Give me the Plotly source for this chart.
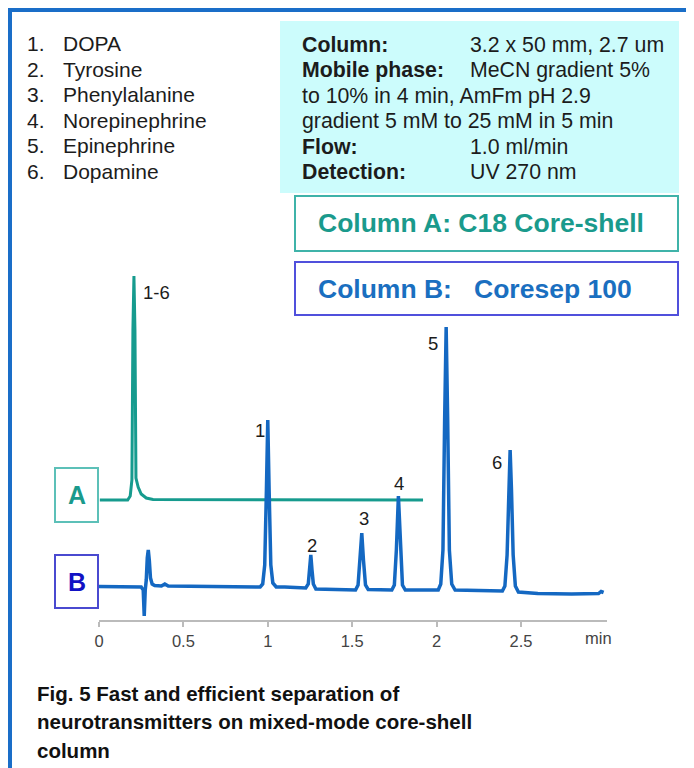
import plotly.graph_objects as go

# ---------------- data ----------------
# Column A chromatogram (time in min, detector signal in arbitrary units)
time_a = [0.005, 0.170, 0.185, 0.195, 0.201, 0.207, 0.213, 0.219, 0.232, 0.250, 0.280, 0.320, 1.920]
signal_a = [120, 120, 124, 140, 290, 344, 290, 142, 133, 126, 122, 120.5, 120]

# Column B chromatogram
time_b = [0.000, 0.150, 0.250, 0.262, 0.268, 0.274, 0.280, 0.286, 0.292, 0.298, 0.305, 0.315, 0.330,
          0.370, 0.390, 0.410, 0.600, 0.900, 0.955, 0.970, 0.982, 0.992, 1.000, 1.008, 1.018, 1.030,
          1.050, 1.100, 1.225, 1.240, 1.248, 1.255, 1.262, 1.270, 1.285, 1.400, 1.520, 1.535, 1.547,
          1.557, 1.567, 1.579, 1.595, 1.735, 1.750, 1.762, 1.774, 1.786, 1.798, 1.815, 2.010, 2.025,
          2.038, 2.048, 2.057, 2.066, 2.076, 2.090, 2.110, 2.390, 2.405, 2.418, 2.428, 2.436, 2.444,
          2.454, 2.467, 2.485, 2.600, 2.800, 2.960, 2.975, 2.990]
signal_b = [33.5, 33.5, 33, 30, 4, 30, 40, 62, 70, 60, 42, 36, 34.5,
            34, 36, 34, 33.5, 32.5, 33, 36, 55, 130, 200, 130, 55, 37,
            33, 33, 32, 36, 50, 65, 50, 36, 31, 30.5, 30, 35, 60,
            87, 60, 35, 30.5, 30, 35, 70, 124, 70, 35, 30, 30, 36,
            70, 200, 293, 200, 70, 36, 30, 29, 34, 65, 130, 170, 130,
            65, 34, 28, 26.5, 26, 26.5, 28.5, 27.5]

peak_labels_b = ["1", "2", "3", "4", "5", "6"]
peak_time_b = [1.000, 1.255, 1.557, 1.774, 2.057, 2.436]
peak_height_b = [200, 65, 87, 124, 293, 170]
peak_label_a = "1-6"
peak_time_a = 0.207
peak_height_a = 344

compounds = ["DOPA", "Tyrosine", "Phenylalanine", "Norepinephrine", "Epinephrine", "Dopamine"]
condition_keys = ["Column:", "Mobile phase:", "", "", "Flow:", "Detection:"]
condition_vals = ["3.2 x 50 mm, 2.7 um", "MeCN gradient 5%", "to 10% in 4 min, AmFm pH 2.9",
                  "gradient 5 mM to 25 mM in 5 min", "1.0 ml/min", "UV 270 nm"]
tick_vals = [0, 0.5, 1, 1.5, 2, 2.5]
tick_text = ["0", "0.5", "1", "1.5", "2", "2.5"]
caption_lines = ["Fig. 5 Fast and efficient separation of",
                 "neurotransmitters on mixed-mode core-shell",
                 "column"]

# ---------------- layout helpers ----------------
# the page body has an 8px margin, so the figure is drawn 8px in from the corner
OFF = 8
W, H = 694 - OFF, 768 - OFF
L, R, T, B = 99 - OFF, 87, 260 - OFF, 148
PW, PH = W - L - R, H - T - B


def px(x):
    return (x - OFF - L) / PW


def py(y):
    return (H - B - (y - OFF)) / PH


TEAL = "#169b8e"
BLUE = "#1468c2"
FONT = "Liberation Sans, Arial, sans-serif"
TXT = "#1c1c1c"

fig = go.Figure()
fig.add_trace(go.Scatter(x=time_a, y=signal_a, mode="lines",
                         line=dict(color=TEAL, width=3), hoverinfo="skip"))
fig.add_trace(go.Scatter(x=time_b, y=signal_b, mode="lines",
                         line=dict(color=BLUE, width=3.5), hoverinfo="skip"))

shapes = []
# outer frame (top and left)
shapes.append(dict(type="rect", xref="paper", yref="paper", x0=px(8), x1=px(700), y0=py(12), y1=py(8),
                   fillcolor="#1a6ec8", line=dict(width=0)))
shapes.append(dict(type="rect", xref="paper", yref="paper", x0=px(8), x1=px(12), y0=py(775), y1=py(8),
                   fillcolor="#1a6ec8", line=dict(width=0)))
# conditions box
shapes.append(dict(type="rect", xref="paper", yref="paper", x0=px(280), x1=px(679), y0=py(193), y1=py(21),
                   fillcolor="#ccfcfc", line=dict(width=0), layer="below"))
# column boxes
shapes.append(dict(type="rect", xref="paper", yref="paper", x0=px(295), x1=px(678), y0=py(251), y1=py(196),
                   fillcolor="white", line=dict(color="#3fb3a9", width=2)))
shapes.append(dict(type="rect", xref="paper", yref="paper", x0=px(295), x1=px(678), y0=py(315), y1=py(262),
                   fillcolor="white", line=dict(color="#5050dc", width=2)))
# A / B boxes
shapes.append(dict(type="rect", xref="paper", yref="paper", x0=px(55), x1=px(98), y0=py(522), y1=py(468),
                   fillcolor="white", line=dict(color="#5cc0b8", width=2)))
shapes.append(dict(type="rect", xref="paper", yref="paper", x0=px(55), x1=px(98), y0=py(608), y1=py(555),
                   fillcolor="white", line=dict(color="#4a4ad0", width=2)))

ann = []


def text(x, y, s, size, color=TXT, bold=False, xanchor="left", family=FONT):
    ann.append(dict(xref="paper", yref="paper", x=px(x), y=py(y), text=("<b>%s</b>" % s) if bold else s,
                    showarrow=False, xanchor=xanchor, yanchor="middle",
                    font=dict(family=family, size=size, color=color)))


# compound list
for i, name in enumerate(compounds):
    yy = 43.5 + i * 25.6
    text(25, yy, "%d." % (i + 1), 21)
    text(61, yy, name, 21)

# conditions
for i, (k, v) in enumerate(zip(condition_keys, condition_vals)):
    yy = 45 + i * 25.4
    if k:
        text(300, yy, k, 21.3, bold=True)
        text(468, yy, v, 21.3)
    else:
        text(300, yy, v, 21.3)

# column titles
text(316, 223, "Column A: C18 Core-shell", 26.5, color="#1a9a8c", bold=True)
text(316, 289, "Column B:\u00a0\u00a0\u00a0Coresep 100", 26.5, color="#1a6fc0", bold=True)

# A / B letters
text(76.5, 495, "A", 25, color="#1a9a8c", bold=True, xanchor="center")
text(76.5, 582, "B", 25, color="#1212c4", bold=True, xanchor="center")

# peak labels
offs_b = [(-8, -10), (1, 10), (2, 15), (1, 13), (-13, -16), (-13, -12)]
for lab, t, h, (dx, dy) in zip(peak_labels_b, peak_time_b, peak_height_b, offs_b):
    ann.append(dict(xref="x", yref="y", x=t, y=h, text=lab, showarrow=False, xshift=dx, yshift=dy,
                    xanchor="center", yanchor="middle", font=dict(family=FONT, size=18.5, color=TXT)))
ann.append(dict(xref="x", yref="y", x=peak_time_a, y=peak_height_a, text=peak_label_a, showarrow=False,
                xshift=23, yshift=-16, xanchor="center", yanchor="middle",
                font=dict(family=FONT, size=18.5, color=TXT)))

# axis unit
text(598, 638, "min", 16.5, color="#444444", xanchor="center")

# caption
for i, line in enumerate(caption_lines):
    text(35, 693 + i * 28.5, line, 20.5, bold=True, color="#111111")

fig.update_layout(
    width=W, height=H, margin=dict(l=L, r=R, t=T, b=B, autoexpand=False),
    paper_bgcolor="white", plot_bgcolor="white", showlegend=False,
    shapes=shapes, annotations=ann,
    xaxis=dict(range=[0, 3.01], showline=True, linecolor="#bbbbbb", linewidth=1.5,
               ticks="outside", ticklen=5, tickcolor="#bbbbbb", tickwidth=1.5,
               tickvals=tick_vals, ticktext=tick_text, showgrid=False, zeroline=False,
               tickfont=dict(family=FONT, size=16.5, color="#444444")),
    yaxis=dict(range=[0, PH], visible=False, showgrid=False, zeroline=False),
)

fig.write_html("out.html")
